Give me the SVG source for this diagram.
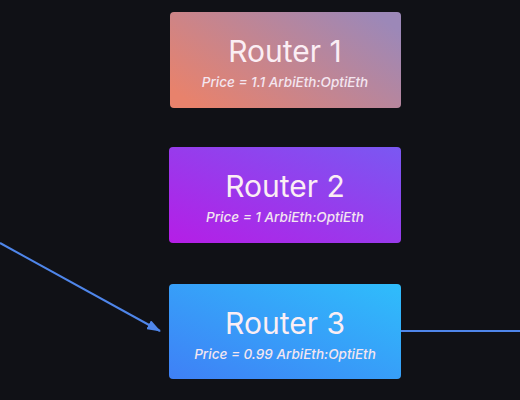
<svg xmlns="http://www.w3.org/2000/svg" width="520" height="400" viewBox="0 0 520 400">
<defs>
<linearGradient id="g1" x1="0" y1="0.8" x2="1" y2="0.2"><stop offset="0" stop-color="#e8826c"/><stop offset="1" stop-color="#9c88b8"/></linearGradient>
<linearGradient id="g2" x1="0" y1="1" x2="1" y2="0"><stop offset="0" stop-color="#b51ee6"/><stop offset="1" stop-color="#7a58f2"/></linearGradient>
<linearGradient id="g3" x1="0" y1="1" x2="1" y2="0"><stop offset="0" stop-color="#3f80f6"/><stop offset="1" stop-color="#2fbdfb"/></linearGradient>
<marker id="ah" markerWidth="14" markerHeight="10" refX="13" refY="5" orient="auto" markerUnits="userSpaceOnUse"><path d="M0,0 L14,5 L0,10 Z" fill="#4f86ea"/></marker>
<style>
.t{font-family:Inter,"Liberation Sans",sans-serif;font-size:30px;fill:#fbeef4;text-anchor:middle}
.s{font-family:Inter,"Liberation Sans",sans-serif;font-size:13.5px;font-style:italic;font-weight:500;fill:#f4e6f0;text-anchor:middle}
.c{stroke:#4f86ea;stroke-width:2;fill:none}
</style>
</defs>
<rect width="520" height="400" fill="#101116"/>
<g id="connectors">
<line class="c" x1="0" y1="243" x2="160" y2="331" marker-end="url(#ah)"/>
<line class="c" x1="401" y1="331" x2="520" y2="331"/>
</g>
<g id="router1">
<rect x="170" y="12" width="231" height="96" rx="4" fill="url(#g1)"/>
<text class="t" x="285" y="62">Router 1</text>
<text class="s" x="285" y="87">Price = 1.1 ArbiEth:OptiEth</text>
</g>
<g id="router2">
<rect x="169" y="147" width="232" height="96" rx="4" fill="url(#g2)"/>
<text class="t" x="285" y="197">Router 2</text>
<text class="s" x="285" y="222">Price = 1 ArbiEth:OptiEth</text>
</g>
<g id="router3">
<rect x="169" y="284" width="232" height="95" rx="4" fill="url(#g3)"/>
<text class="t" x="285" y="334">Router 3</text>
<text class="s" x="285" y="359">Price = 0.99 ArbiEth:OptiEth</text>
</g>
</svg>
